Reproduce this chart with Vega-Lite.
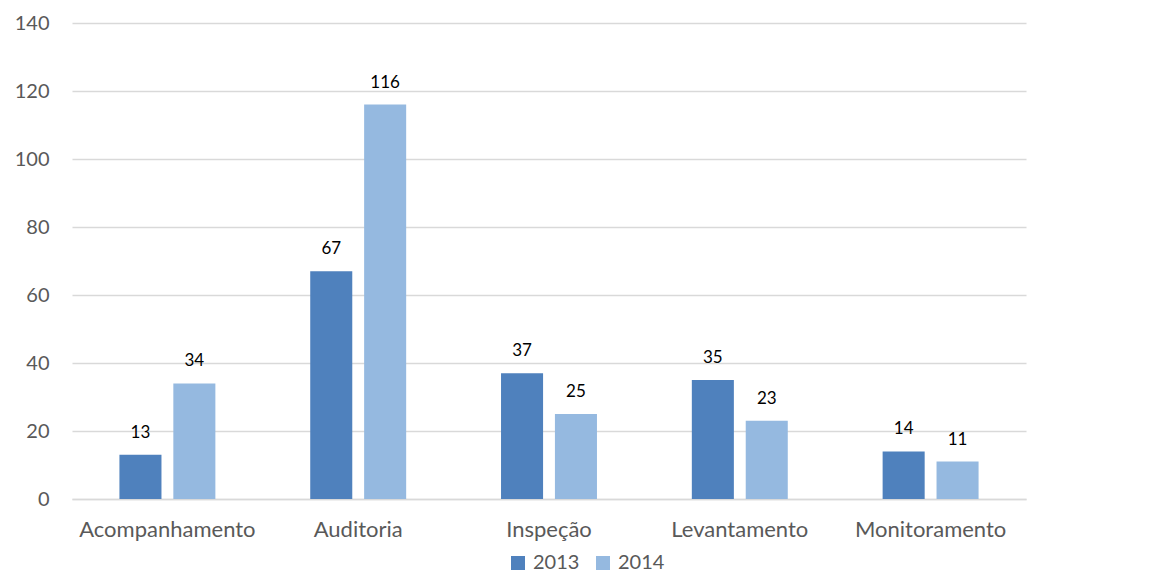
{
  "$schema": "https://vega.github.io/schema/vega-lite/v6.json",
  "autosize": "none",
  "width": 954,
  "height": 476,
  "padding": {"left": 72, "top": 23, "right": 134, "bottom": 76},
  "background": "white",
  "config": {"view": {"stroke": null}, "font": "Lato"},
  "data": {"values": [
    {"tipo": "Acompanhamento", "ano": "2013", "valor": 13},
    {"tipo": "Acompanhamento", "ano": "2014", "valor": 34},
    {"tipo": "Auditoria", "ano": "2013", "valor": 67},
    {"tipo": "Auditoria", "ano": "2014", "valor": 116},
    {"tipo": "Inspeção", "ano": "2013", "valor": 37},
    {"tipo": "Inspeção", "ano": "2014", "valor": 25},
    {"tipo": "Levantamento", "ano": "2013", "valor": 35},
    {"tipo": "Levantamento", "ano": "2014", "valor": 23},
    {"tipo": "Monitoramento", "ano": "2013", "valor": 14},
    {"tipo": "Monitoramento", "ano": "2014", "valor": 11}
  ]},
  "encoding": {
    "x": {"field": "tipo", "type": "nominal", "sort": null,
      "scale": {"paddingInner": 0.435, "paddingOuter": 0.2175},
      "axis": {"title": null, "labelAngle": 0, "ticks": false, "domainColor": "#D9D9D9", "domainWidth": 1.5,
        "labelFontSize": 22, "labelColor": "#595959", "labelPadding": 20, "labelFont": "Lato"}},
    "xOffset": {"field": "ano", "type": "nominal", "scale": {"paddingInner": 0.22, "paddingOuter": 0.11}},
    "y": {"field": "valor", "type": "quantitative",
      "scale": {"domain": [0, 140], "nice": false},
      "axis": {"title": null, "values": [0, 20, 40, 60, 80, 100, 120, 140], "domain": false, "ticks": false,
        "gridColor": "#D9D9D9", "gridWidth": 1.5, "labelFontSize": 20, "labelColor": "#595959", "labelPadding": 23, "labelFont": "Lato"}}
  },
  "layer": [
    {"mark": {"type": "bar"},
     "encoding": {"color": {"field": "ano", "type": "nominal",
       "scale": {"domain": ["2013", "2014"], "range": ["#4F81BD", "#95B9E0"]},
       "legend": {"title": null, "orient": "none", "legendX": 436, "legendY": 530, "direction": "horizontal", "symbolType": "square",
         "symbolSize": 196, "symbolStrokeWidth": 0, "labelFontSize": 20, "labelColor": "#595959", "labelFont": "Lato",
         "columnPadding": 13, "labelOffset": 5}}}},
    {"mark": {"type": "text", "baseline": "alphabetic", "dy": -17, "fontSize": 17, "color": "black", "font": "Lato"},
     "encoding": {"text": {"field": "valor", "type": "quantitative"}}}
  ]
}
